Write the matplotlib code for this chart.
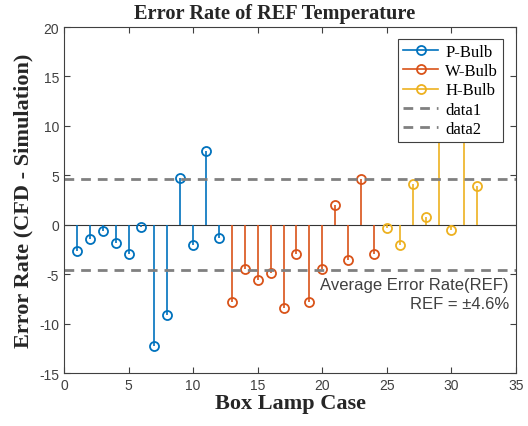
import numpy as np
import matplotlib.pyplot as plt
from matplotlib.lines import Line2D
from matplotlib.legend_handler import HandlerLine2D

plt.rcParams['axes.unicode_minus'] = False

# error rate per box lamp case (CFD - simulation), %
p_case = list(range(1, 13))
p_err = [-2.7, -1.4, -0.65, -1.8, -3.0, -0.2, -12.3, -9.1, 4.75, -2.05, 7.5, -1.3]
w_case = list(range(13, 25))
w_err = [-7.85, -4.5, -5.55, -4.85, -8.4, -2.95, -7.85, -4.5, 2.0, -3.6, 4.65, -3.0]
h_case = list(range(25, 33))
h_err = [-0.3, -2.05, 4.1, 0.8, 12.0, -0.5, 14.0, 3.95]
ref = 4.6

blue = (0.0, 0.447, 0.741)
red = (0.85, 0.325, 0.098)
yellow = (0.929, 0.694, 0.125)
gray = '#808080'

serif = 'Liberation Serif'
sans = 'Liberation Sans'


class HandlerEndMarker(HandlerLine2D):
    # stem-style legend entry: marker sits at the right end of the line
    def create_artists(self, legend, orig_handle, xdescent, ydescent,
                       width, height, fontsize, trans):
        arts = super().create_artists(legend, orig_handle, xdescent, ydescent,
                                      width, height, fontsize, trans)
        if len(arts) > 1 and orig_handle.get_marker() not in ('None', None, ''):
            x_end = width - xdescent - 4
            arts[1].set_xdata([x_end])
            xd = arts[0].get_xdata()
            arts[0].set_xdata([xd[0], x_end])
        return arts


fig = plt.figure(figsize=(5.28, 4.27), dpi=100)
ax = fig.add_axes([0.1212, 0.1241, 0.8561, 0.8103])

handles = []
for xs, ys, c, lab in [(p_case, p_err, blue, 'P-Bulb'),
                       (w_case, w_err, red, 'W-Bulb'),
                       (h_case, h_err, yellow, 'H-Bulb')]:
    ml, sl, bl = ax.stem(xs, ys, basefmt=' ')
    plt.setp(sl, color=c, linewidth=1.2)
    plt.setp(ml, color=c, marker='o', markersize=6.5, markerfacecolor='none',
             markeredgewidth=1.3)
    handles.append(Line2D([], [], color=c, lw=1.2, marker='o',
                          markersize=6.5, markerfacecolor='none',
                          markeredgewidth=1.3, label=lab))

ax.axhline(0, color='#333333', lw=0.8, zorder=1)
dash = (0, (3.5, 2.5))
ax.axhline(ref, color=gray, lw=2, ls=dash)
ax.axhline(-ref, color=gray, lw=2, ls=dash)
handles.append(Line2D([], [], color=gray, lw=2, ls=dash, label='data1'))
handles.append(Line2D([], [], color=gray, lw=2, ls=dash, label='data2'))

ax.set_xlim(0, 35)
ax.set_ylim(-15, 20)
ax.set_xticks(np.arange(0, 36, 5))
ax.set_yticks(np.arange(-15, 21, 5))
ax.tick_params(direction='in', top=True, right=True, labelsize=10,
               labelcolor='#404040', color='#404040', length=4)
for lbl in ax.get_xticklabels() + ax.get_yticklabels():
    lbl.set_fontfamily(sans)
for s in ax.spines.values():
    s.set_color('#404040')
    s.set_linewidth(0.8)

ax.text(0.467, 1.012, 'Error Rate of REF Temperature', transform=ax.transAxes,
        ha='center', va='bottom', fontfamily=serif, fontweight='bold',
        fontsize=14.7, color='#262626')
ax.set_xlabel('Box Lamp Case', fontfamily=serif, fontweight='bold', fontsize=16,
              labelpad=1, color='#262626')
ax.set_ylabel('Error Rate (CFD - Simulation)', fontfamily=serif,
              fontweight='bold', fontsize=16, labelpad=4, color='#262626')

ax.text(34.45, -5.3, 'Average Error Rate(REF)\nREF = \u00b14.6%', ha='right',
        va='top', fontfamily=sans, fontsize=12, color='#404040',
        linespacing=1.3)

leg = ax.legend(handles=handles, loc='upper right',
                bbox_to_anchor=(0.971, 0.966), numpoints=1,
                handler_map={Line2D: HandlerEndMarker()},
                prop={'family': serif, 'size': 12}, fancybox=False,
                framealpha=1, edgecolor='#404040', borderpad=0.3,
                labelspacing=0.2, handlelength=2.1, handletextpad=0.4,
                borderaxespad=0.0)
leg.get_frame().set_linewidth(0.8)

fig.savefig('out.png', dpi=100)
